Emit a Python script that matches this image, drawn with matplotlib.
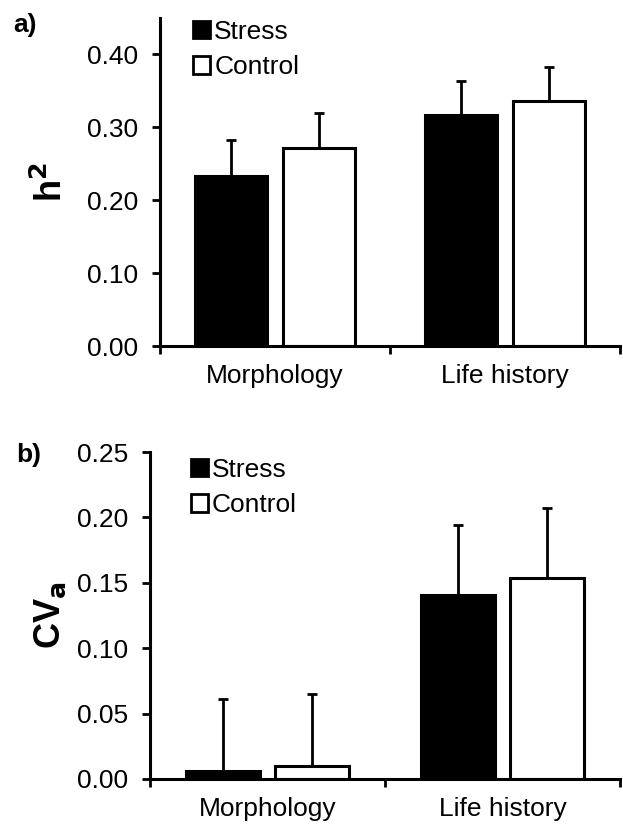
import numpy as np
import matplotlib
matplotlib.use('Agg')
import matplotlib.pyplot as plt
from matplotlib.ticker import FixedLocator

plt.rcParams['font.family'] = ['Liberation Sans', 'DejaVu Sans']

categories = ['Morphology', 'Life history']
groups = ['Stress', 'Control']

# a) heritability
h2_stress = [0.233, 0.317]
h2_control = [0.271, 0.336]
h2_stress_err = [0.049, 0.047]
h2_control_err = [0.049, 0.047]

# b) additive genetic coefficient of variation
cva_stress = [0.006, 0.141]
cva_control = [0.010, 0.154]
cva_stress_err = [0.055, 0.053]
cva_control_err = [0.055, 0.053]

FS = 19


def draw_panel(ax, stress, control, s_err, c_err, ymax, yticks, ylabel, label_x, leg_anchor):
    x = np.arange(len(categories))
    w = 0.313
    off = 0.19
    for vals, errs, col, lab, sign in [(stress, s_err, 'black', groups[0], -1),
                                       (control, c_err, 'white', groups[1], 1)]:
        ax.bar(x + sign * off, vals, w, color=col, edgecolor='black', linewidth=2.2,
               label=lab, zorder=2)
        ax.errorbar(x + sign * off, vals, yerr=[np.zeros(len(vals)), errs], fmt='none',
                    ecolor='black', elinewidth=2, capsize=3.3, capthick=2, zorder=1)
    ax.set_xlim(-0.5, 1.5)
    ax.set_ylim(0, ymax)
    ax.set_yticks(yticks)
    ax.set_yticklabels(['{:.2f}'.format(t) for t in yticks])
    ax.set_xticks(x)
    ax.set_xticklabels(categories)
    ax.xaxis.set_minor_locator(FixedLocator([-0.5, 0.5, 1.5]))
    ax.tick_params(axis='x', which='major', length=0, pad=13, labelsize=FS)
    ax.tick_params(axis='x', which='minor', length=6, width=2, direction='out')
    ax.tick_params(axis='y', length=6, width=2, direction='out', labelsize=FS, pad=10)
    for s in ['top', 'right']:
        ax.spines[s].set_visible(False)
    for s in ['left', 'bottom']:
        ax.spines[s].set_linewidth(2.2)
    ax.set_ylabel(ylabel, fontsize=26, fontweight='bold')
    ax.yaxis.set_label_coords(label_x, 0.5)
    leg = ax.legend(loc='upper left', bbox_to_anchor=leg_anchor, frameon=False,
                    fontsize=FS, handlelength=0.65, handleheight=0.65,
                    handletextpad=0.15, labelspacing=0.42, borderaxespad=0, borderpad=0)
    for h in leg.legend_handles:
        h.set_linewidth(2)


fig = plt.figure(figsize=(6.23, 8.25), dpi=100)
ax1 = fig.add_axes([0.2568, 0.5806, 0.7384, 0.3976])
ax2 = fig.add_axes([0.2408, 0.0558, 0.7544, 0.3963])

draw_panel(ax1, h2_stress, h2_control, h2_stress_err, h2_control_err,
           0.45, [0.0, 0.1, 0.2, 0.3, 0.4], r'h$^\mathbf{2}$', -0.195, (0.072, 0.994))
draw_panel(ax2, cva_stress, cva_control, cva_stress_err, cva_control_err,
           0.25, [0.0, 0.05, 0.1, 0.15, 0.2, 0.25], r'CV$_\mathbf{a}$', -0.175, (0.087, 0.982))

fig.text(0.022, 0.984, 'a)', fontsize=19, fontweight='bold', va='top')
fig.text(0.026, 0.463, 'b)', fontsize=19, fontweight='bold', va='top')

fig.savefig('out.png', dpi=100)
